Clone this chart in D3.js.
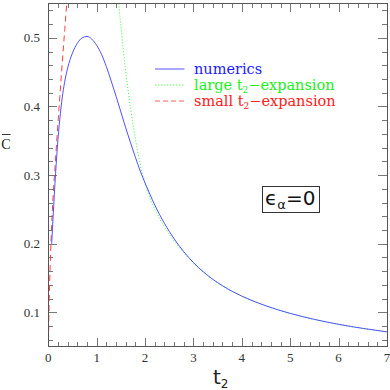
<!DOCTYPE html>
<html>
<head>
<meta charset="utf-8">
<script src="https://cdn.jsdelivr.net/npm/d3@7"></script>
<style>
  body { margin: 0; background: #fff; }
  svg { display: block; }
</style>
</head>
<body>
<div id="chart"></div>
<script>
// numerics (blue solid)
const NUM_T = [0.07, 0.1, 0.15, 0.2, 0.25, 0.3, 0.35, 0.4, 0.5, 0.6, 0.7, 0.8, 0.9, 1.0, 1.1, 1.2, 1.3, 1.4, 1.5, 1.6, 1.7, 1.8, 1.9, 2.0, 2.1, 2.2, 2.3, 2.4, 2.5, 2.6, 2.7, 2.8, 2.9, 3.0, 3.2, 3.4, 3.6, 3.8, 4.0, 4.5, 5.0, 5.5, 6.0, 6.5, 7.0];
const NUM_C = [0.2, 0.24, 0.302, 0.352, 0.39, 0.419, 0.44, 0.456, 0.478, 0.492, 0.5, 0.502, 0.498, 0.489, 0.476, 0.458, 0.437, 0.415, 0.392, 0.369, 0.347, 0.326, 0.306, 0.2885, 0.272, 0.2565, 0.2425, 0.2297, 0.218, 0.2072, 0.1974, 0.1884, 0.1801, 0.1725, 0.1593, 0.1482, 0.1388, 0.1307, 0.1237, 0.1095, 0.0985, 0.0898, 0.0826, 0.0767, 0.0716];

// large t2 expansion (green dotted)
const LARGE_T = [1.45, 1.5, 1.55, 1.6, 1.65, 1.7, 1.8, 1.9, 2.0, 2.1, 2.2, 2.4, 2.6, 2.8, 3.0, 3.2, 3.4, 3.6, 3.8, 4.0, 4.5, 5.0, 5.5, 6.0, 6.5, 7.0];
const LARGE_C = [0.5545, 0.517, 0.4825, 0.451, 0.423, 0.397, 0.353, 0.316, 0.2875, 0.267, 0.2505, 0.2247, 0.2042, 0.1869, 0.1718, 0.159, 0.1481, 0.1388, 0.1307, 0.1237, 0.1095, 0.0985, 0.0898, 0.0826, 0.0767, 0.0716];

// small t2 expansion (red dashed)
const SMALL_T = [0, 0.004, 0.01, 0.02, 0.04, 0.06, 0.08, 0.1, 0.14, 0.18, 0.22, 0.26, 0.3, 0.34, 0.38, 0.42];
const SMALL_C = [0, 0.05, 0.085, 0.12, 0.17, 0.21, 0.243, 0.27, 0.312, 0.356, 0.396, 0.436, 0.475, 0.512, 0.55, 0.59];

const X_MAJOR = [0, 1, 2, 3, 4, 5, 6, 7];
const Y_MAJOR = [0.1, 0.2, 0.3, 0.4, 0.5];
// legend entries: [before subscript, subscript, after subscript]
const LEGEND = [["numerics", "", ""], ["large t", "2", "\u2212expansion"], ["small t", "2", "\u2212expansion"]];

var W = 390, H = 390;
var pLeft = 48.3, pRight = 387, pTop = 3.5, pBottom = 346.7;

var x = d3.scaleLinear().domain([0, 7]).range([pLeft, pRight]);
var y = d3.scaleLinear().domain([0.05, 0.55]).range([pBottom, pTop]);

var xMinor = d3.range(0, 7.001, 0.2).map(function (d) { return +d.toFixed(2); });
var yMinor = d3.range(0.06, 0.5401, 0.02).map(function (d) { return +d.toFixed(3); });

var svg = d3.select("#chart").append("svg").attr("width", W).attr("height", H);

svg.append("defs").append("clipPath").attr("id", "clip")
  .append("rect").attr("x", pLeft).attr("y", pTop)
  .attr("width", pRight - pLeft).attr("height", pBottom - pTop);

// ticks on all four sides, pointing inward
function tickAxis(axis, trans, size, vals) {
  var g = svg.append("g").attr("transform", trans)
    .call(axis.tickValues(vals).tickSize(size).tickFormat(""));
  g.select(".domain").remove();
  g.selectAll("line").attr("stroke", "#777").attr("shape-rendering", "crispEdges");
  return g;
}
tickAxis(d3.axisBottom(x), "translate(0," + pBottom + ")", -4.5, xMinor);
tickAxis(d3.axisBottom(x), "translate(0," + pBottom + ")", -8.5, X_MAJOR);
tickAxis(d3.axisTop(x), "translate(0," + pTop + ")", -4.5, xMinor);
tickAxis(d3.axisTop(x), "translate(0," + pTop + ")", -8.5, X_MAJOR);
tickAxis(d3.axisLeft(y), "translate(" + pLeft + ",0)", -5, yMinor);
tickAxis(d3.axisLeft(y), "translate(" + pLeft + ",0)", -9, Y_MAJOR);
tickAxis(d3.axisRight(y), "translate(" + pRight + ",0)", -5, yMinor);
tickAxis(d3.axisRight(y), "translate(" + pRight + ",0)", -9, Y_MAJOR);

// tick labels
svg.append("g").selectAll("text").data(X_MAJOR).enter().append("text")
  .attr("x", function (d) { return x(d); })
  .attr("y", 362)
  .attr("text-anchor", "middle")
  .attr("font-family", "Liberation Serif")
  .attr("font-size", 13)
  .attr("fill", "#333")
  .text(function (d) { return d; });

svg.append("g").selectAll("text").data(Y_MAJOR).enter().append("text")
  .attr("x", 40)
  .attr("y", function (d) { return y(d) + 4.5; })
  .attr("text-anchor", "end")
  .attr("font-family", "Liberation Serif")
  .attr("font-size", 13)
  .attr("fill", "#333")
  .text(function (d) { return d3.format(".1f")(d); });

// curves
var line = d3.line()
  .x(function (d) { return x(d[0]); })
  .y(function (d) { return y(d[1]); })
  .curve(d3.curveMonotoneX);

var plot = svg.append("g").attr("clip-path", "url(#clip)");

plot.append("path")
  .datum(SMALL_T.map(function (t, i) { return [t, SMALL_C[i]]; }))
  .attr("d", line)
  .attr("fill", "none")
  .attr("stroke", "#ff4040")
  .attr("stroke-width", 1)
  .attr("stroke-dasharray", "6,4");

plot.append("path")
  .datum(LARGE_T.map(function (t, i) { return [t, LARGE_C[i]]; }))
  .attr("d", line)
  .attr("fill", "none")
  .attr("stroke", "#30ff30")
  .attr("stroke-width", 1)
  .attr("stroke-dasharray", "1,2");

plot.append("path")
  .datum(NUM_T.map(function (t, i) { return [t, NUM_C[i]]; }))
  .attr("d", line)
  .attr("fill", "none")
  .attr("stroke", "#5050ff")
  .attr("stroke-width", 1);

// frame
svg.append("rect")
  .attr("x", pLeft).attr("y", pTop)
  .attr("width", pRight - pLeft).attr("height", pBottom - pTop)
  .attr("fill", "none")
  .attr("stroke", "#555")
  .attr("shape-rendering", "crispEdges");

// legend
var legColors = ["#2020ff", "#20f020", "#ff2020"];
var legDash = ["none", "1.5,1.5", "5,3"];
var legStroke = ["#7070ff", "#60ff60", "#ff6060"];
LEGEND.forEach(function (lab, i) {
  var ly = 69 + i * 16;
  svg.append("line")
    .attr("x1", 155).attr("x2", 184.5)
    .attr("y1", ly).attr("y2", ly)
    .attr("stroke", legStroke[i])
    .attr("stroke-width", 1.2)
    .attr("stroke-dasharray", legDash[i]);
  var tx = svg.append("text")
    .attr("x", 194).attr("y", ly + 4.5)
    .attr("font-family", "DejaVu Serif")
    .attr("font-size", 14.5)
    .attr("fill", legColors[i]);
  tx.append("tspan").text(lab[0]);
  if (lab[1]) {
    tx.append("tspan").attr("dy", 3).attr("font-size", 9).text(lab[1]);
    tx.append("tspan").attr("dy", -3).text(lab[2]);
  }
});

// epsilon box
svg.append("rect")
  .attr("x", 262.5).attr("y", 186.5)
  .attr("width", 57).attr("height", 26)
  .attr("fill", "none")
  .attr("stroke", "#333")
  .attr("shape-rendering", "crispEdges");
var eps = svg.append("text")
  .attr("x", 265).attr("y", 205)
  .attr("font-family", "DejaVu Sans")
  .attr("font-size", 20)
  .attr("fill", "#111");
eps.append("tspan").text("\u03f5");
eps.append("tspan").attr("dy", 4).attr("font-size", 13).text("\u03b1");
eps.append("tspan").attr("dy", -4).text("=0");

// axis labels
var xl = svg.append("text")
  .attr("x", 213).attr("y", 384)
  .attr("font-family", "DejaVu Sans")
  .attr("font-size", 20)
  .attr("fill", "#222");
xl.append("tspan").text("t");
xl.append("tspan").attr("dy", 4).attr("font-size", 12).text("2");

svg.append("text")
  .attr("x", 6).attr("y", 149)
  .attr("text-anchor", "middle")
  .attr("font-family", "Liberation Serif")
  .attr("font-size", 14)
  .attr("fill", "#222")
  .text("C");
svg.append("line")
  .attr("x1", 2).attr("x2", 10.5)
  .attr("y1", 134.5).attr("y2", 134.5)
  .attr("stroke", "#333");
</script>
</body>
</html>
